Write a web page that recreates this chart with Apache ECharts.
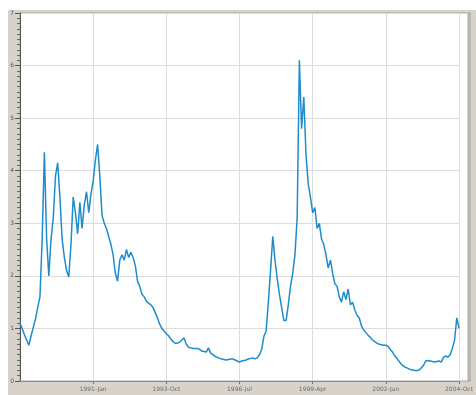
<!DOCTYPE html>
<html>
<head>
<meta charset="utf-8">
<script src="https://cdn.jsdelivr.net/npm/echarts@6/dist/echarts.min.js"></script>
<style>
  html, body { margin: 0; padding: 0; background: #fff; }
  #chart { width: 476px; height: 395px; }
</style>
</head>
<body>
<div id="chart"></div>
<script>
// monthly series, starting 1988-Apr
const startYear = 1988;
const startMonth = 3; // 0-based, April
const monthNames = ["Jan", "Feb", "Mar", "Apr", "May", "Jun", "Jul", "Aug", "Sep", "Oct", "Nov", "Dec"];

const values = [
  1.1, 1.0, 0.88, 0.78, 0.68, 0.86, 1.02, 1.18, 1.4, 1.6,
  2.7, 4.35, 2.7, 2.0, 2.7, 3.1, 3.9, 4.15, 3.5, 2.7,
  2.35, 2.1, 1.98, 2.6, 3.5, 3.2, 2.8, 3.4, 2.9, 3.35,
  3.6, 3.2, 3.55, 3.8, 4.2, 4.5, 3.9, 3.15, 3.0, 2.9,
  2.75, 2.6, 2.4, 2.05, 1.9, 2.3, 2.4, 2.3, 2.5, 2.35,
  2.45, 2.35, 2.2, 1.9, 1.8, 1.65, 1.6, 1.52, 1.48, 1.45,
  1.4, 1.3, 1.2, 1.08, 1.0, 0.95, 0.9, 0.86, 0.8, 0.75,
  0.72, 0.72, 0.74, 0.78, 0.82, 0.7, 0.64, 0.63, 0.62, 0.62,
  0.62, 0.6, 0.57, 0.56, 0.55, 0.63, 0.53, 0.5, 0.47, 0.45,
  0.43, 0.42, 0.41, 0.40, 0.41, 0.42, 0.42, 0.40, 0.38, 0.36,
  0.38, 0.39, 0.40, 0.42, 0.43, 0.44, 0.42, 0.44, 0.5, 0.6,
  0.85, 0.95, 1.5, 2.1, 2.75, 2.3, 1.95, 1.65, 1.4, 1.15,
  1.15, 1.45, 1.8, 2.05, 2.4, 3.1, 6.1, 4.8, 5.4, 4.3,
  3.75, 3.5, 3.2, 3.3, 2.9, 3.0, 2.7, 2.6, 2.4, 2.15,
  2.3, 2.05, 1.85, 1.8, 1.6, 1.5, 1.7, 1.55, 1.75, 1.45,
  1.5, 1.35, 1.25, 1.2, 1.05, 0.97, 0.92, 0.87, 0.83, 0.78,
  0.75, 0.72, 0.7, 0.69, 0.68, 0.68, 0.66, 0.6, 0.55, 0.48,
  0.43, 0.37, 0.32, 0.28, 0.26, 0.24, 0.22, 0.21, 0.2, 0.2,
  0.21, 0.25, 0.3, 0.38, 0.39, 0.38, 0.37, 0.36, 0.37, 0.38,
  0.36, 0.45, 0.48, 0.45, 0.5, 0.62, 0.78, 1.2, 1.0
];

const labelStep = 33;

const categories = values.map((_, i) => {
  const m = startMonth + i;
  const y = startYear + Math.floor(m / 12);
  return y + "-" + monthNames[m % 12];
});

const showAt = (i) => i > 0 && i % labelStep === 0;

const chart = echarts.init(document.getElementById("chart"));
chart.setOption({
  backgroundColor: "#fff",
  animation: false,
  graphic: [
    { type: "rect", z: -2, shape: { x: 8, y: 10, width: 468, height: 385 }, style: { fill: "#d7d3cb" } },
    { type: "rect", z: -1, shape: { x: 20, y: 13, width: 448, height: 368 }, style: { fill: "#fff", stroke: "#a9a7a2", lineWidth: 1 } },
    { type: "rect", z: -1, shape: { x: 468, y: 12, width: 3, height: 370 }, style: { fill: "#b8b5ae" } }
  ],
  grid: { left: 20, right: 8, top: 13, bottom: 14, containLabel: false },
  xAxis: {
    type: "category",
    data: categories,
    boundaryGap: false,
    axisLine: { lineStyle: { color: "#8e8c87" } },
    axisTick: { interval: showAt, length: 3, lineStyle: { color: "#777" } },
    axisLabel: { interval: showAt, fontSize: 6, color: "#6a6a6a", margin: 5, fontFamily: "DejaVu Sans" },
    splitLine: { show: true, interval: showAt, lineStyle: { color: "#dcdcdc" } }
  },
  yAxis: {
    type: "value",
    min: 0,
    max: 7,
    interval: 1,
    axisLine: { show: true, lineStyle: { color: "#555" } },
    axisTick: { show: true, length: 5, lineStyle: { color: "#555" } },
    minorTick: { show: true, splitNumber: 10, length: 3, lineStyle: { color: "#666" } },
    axisLabel: { fontSize: 6, color: "#555", margin: 6, fontFamily: "DejaVu Sans" },
    splitLine: { lineStyle: { color: "#dcdcdc" } }
  },
  series: [{
    type: "line",
    data: values,
    showSymbol: false,
    lineStyle: { color: "#1e8ccb", width: 1.5 },
    itemStyle: { color: "#1e8ccb" }
  }]
});
</script>
</body>
</html>
